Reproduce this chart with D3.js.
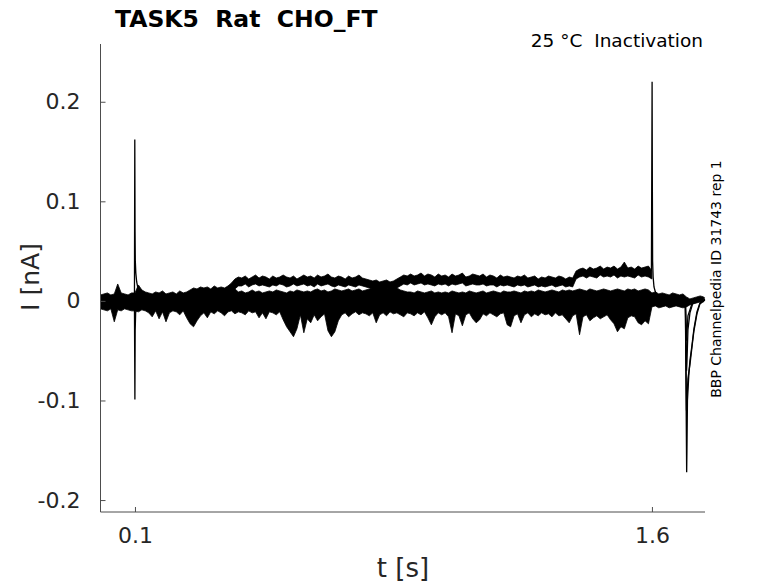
<!DOCTYPE html>
<html>
<head>
<meta charset="utf-8">
<script src="https://cdn.jsdelivr.net/npm/d3@7"></script>
<style>
  body { margin: 0; background: #fff; }
  text { font-family: 'DejaVu Sans', sans-serif; }
</style>
</head>
<body>
<div id="chart"></div>
<script>
// sweeps sampled every 10 ms from t = 0 s, currents in pA
const stepS = 0.01

// upper and lower edge of the main bundle of sweeps
const bandTopPA = [
  6, 7, 8, 6, 7, 17, 8, 7, 6, 8,
  8, 16, 11, 9, 8, 7, 9, 8, 10, 7,
  8, 9, 7, 10, 8, 9, 11, 13, 12, 14,
  13, 14, 12, 15, 13, 14, 13, 15, 14, 12,
  9, 10, 8, 9, 11, 9, 10, 8, 9, 10,
  9, 11, 10, 9, 8, 10, 9, 11, 10, 9,
  10, 9, 11, 12, 10, 11, 9, 10, 12, 11,
  10, 11, 12, 10, 11, 12, 10, 11, 12, 13,
  12, 13, 14, 13, 12, 14, 13, 11, 10, 9,
  9, 8, 10, 9, 8, 9, 10, 8, 9, 8,
  9, 8, 10, 9, 8, 9, 8, 10, 9, 8,
  9, 10, 8, 9, 10, 9, 8, 10, 9, 9,
  10, 9, 8, 10, 9, 10, 9, 11, 10, 9,
  10, 11, 10, 9, 11, 10, 11, 10, 11, 12,
  11, 10, 12, 11, 10, 11, 12, 11, 10, 11,
  12, 11, 10, 12, 11, 12, 10, 11, 12, 11,
  8, 9, 7, 8, 7, 6, 8, 7, 6, 7,
  4, 2, 3, 4, 5, 4
]
const bandBotPA = [
  -8, -9, -10, -8, -21, -9, -10, -8, -9, -10,
  -10, -11, -9, -10, -12, -16, -10, -18, -11, -21,
  -12, -10, -11, -14, -10, -17, -23, -26, -20, -15,
  -12, -17, -11, -13, -10, -12, -15, -11, -10, -13,
  -11, -12, -14, -10, -12, -11, -17, -12, -18, -11,
  -12, -14, -11, -19, -26, -31, -36, -28, -14, -32,
  -18, -22, -14, -20, -16, -13, -30, -36, -31, -20,
  -14, -12, -16, -13, -11, -14, -12, -13, -15, -12,
  -22, -14, -12, -15, -11, -13, -12, -14, -16, -12,
  -13, -15, -12, -14, -11, -17, -24, -16, -12, -14,
  -12, -16, -32, -13, -15, -25, -14, -12, -18, -22,
  -19, -13, -15, -12, -14, -16, -13, -12, -24, -26,
  -15, -13, -22, -14, -12, -16, -13, -15, -12, -14,
  -13, -16, -12, -15, -14, -18, -22, -15, -13, -34,
  -16, -14, -20, -17, -15, -18, -16, -14, -19, -23,
  -31, -26, -28, -17, -15, -16, -22, -24, -20, -23,
  -6, -5, -7, -6, -5, -7, -6, -5, -6, -7,
  -6, -4, -3, -2, -1, -1
]

// the one sweep that drifts up, from sample 37 (0.37 s) to sample 160 (1.60 s)
const upperFirst = 37
const upperTopPA = [
  15, 18,
  22, 24, 23, 25, 22, 24, 26, 23, 25, 24, 22,
  25, 23, 24, 26, 24, 23, 25, 22, 24, 26,
  24, 25, 23, 26, 24, 25, 27, 24, 23, 25,
  24, 22, 25, 23, 24, 26, 23, 22, 21, 20,
  21, 19, 20, 21, 19, 20, 22, 24, 26, 25,
  27, 25, 26, 28, 25, 27, 26, 24, 27, 25,
  26, 24, 27, 25, 26, 28, 24, 25, 27, 26,
  25, 27, 24, 26, 25, 23, 26, 24, 25, 24,
  23, 25, 24, 26, 23, 24, 25, 22, 24, 23,
  25, 24, 23, 25, 24, 22, 24, 23,
  30, 32, 33, 31, 34, 32, 33, 35, 32, 34,
  33, 35, 32, 34, 39, 33, 34, 32, 35, 33, 34, 35,
  30
]
const upperBotPA = [
  10, 11,
  12, 15, 15, 17, 14, 16, 17, 15, 16, 15, 14,
  16, 15, 17, 16, 14, 15, 17, 15, 16, 17,
  15, 16, 14, 17, 15, 16, 17, 15, 14, 16,
  15, 14, 16, 15, 14, 16, 15, 14, 13, 12,
  12, 11, 12, 13, 11, 12, 13, 15, 17, 16,
  18, 16, 17, 18, 16, 17, 16, 15, 17, 16,
  17, 15, 17, 16, 17, 18, 15, 16, 17, 16,
  16, 17, 15, 16, 16, 14, 16, 15, 16, 15,
  14, 16, 15, 16, 14, 15, 16, 14, 15, 14,
  15, 16, 14, 15, 16, 14, 15, 14,
  22, 24, 25, 23, 25, 24, 23, 26, 24, 25,
  24, 26, 23, 25, 24, 25, 24, 23, 26, 24, 25, 24,
  22
]

// fast capacitive transients, own time points (s) and pA
const onsetUpT = [0.0985, 0.0995, 0.1003, 0.101, 0.1025, 0.105, 0.109, 0.114]
const onsetUpPA = [4, 162, 70, 40, 28, 19, 12, 8]
const onsetDownT = [0.0985, 0.0998, 0.1006, 0.102, 0.104]
const onsetDownPA = [-4, -99, -30, -12, -8]
const stepUpT = [1.5985, 1.6005, 1.6013, 1.602, 1.6035, 1.606, 1.61, 1.615]
const stepUpPA = [30, 220, 110, 40, 24, 14, 9, 6]
const tailDeepT = [1.697, 1.7008, 1.7016, 1.7031, 1.7074, 1.7103, 1.716, 1.7219, 1.7306, 1.7393, 1.7538]
const tailDeepPA = [-1, -172, -150, -100, -72, -60, -45, -28, -11, -2, 2]
const tailSlowT = [1.697, 1.7003, 1.7045, 1.7103, 1.716, 1.7219, 1.7306, 1.7393, 1.7538]
const tailSlowPA = [-3, -110, -78, -64, -47, -30, -13, -3, 1]
const tailFastT = [1.697, 1.7005, 1.7016, 1.7045, 1.7103, 1.719, 1.7306, 1.7538]
const tailFastPA = [0, -70, -62, -29, -12, -2, 2, 3]
const tailSmallT = [1.697, 1.7003, 1.7045, 1.716, 1.7306]
const tailSmallPA = [2, -40, -15, -3, 1]

const xTicks = [0.1, 1.6]
const yTicks = [-0.2, -0.1, 0, 0.1, 0.2]

const width = 778
const height = 583

const svg = d3
  .select('#chart')
  .append('svg')
  .attr('width', width)
  .attr('height', height)

const x = d3.scaleLinear().domain([0, 1.754]).range([100.5, 705])
const y = d3.scaleLinear().domain([-0.212, 0.258]).range([512, 44])

const pa = v => v / 1000

// main bundle
const band = bandTopPA.map((d, i) => ({ t: i * stepS, hi: pa(d), lo: pa(bandBotPA[i]) }))
const upper = upperTopPA.map((d, i) => ({
  t: (upperFirst + i) * stepS,
  hi: pa(d),
  lo: pa(upperBotPA[i])
}))

const area = d3
  .area()
  .x(d => x(d.t))
  .y0(d => y(d.lo))
  .y1(d => y(d.hi))

svg
  .selectAll('.bundle')
  .data([band, upper])
  .enter()
  .append('path')
  .attr('class', 'bundle')
  .attr('d', area)
  .attr('fill', '#000')
  .attr('stroke', '#000')
  .attr('stroke-width', 0.8)

// transients
const line = d3
  .line()
  .x(d => x(d[0]))
  .y(d => y(pa(d[1])))

const transients = [
  [onsetUpT, onsetUpPA],
  [onsetDownT, onsetDownPA],
  [stepUpT, stepUpPA],
  [tailDeepT, tailDeepPA],
  [tailSlowT, tailSlowPA],
  [tailFastT, tailFastPA],
  [tailSmallT, tailSmallPA]
]

svg
  .selectAll('.transient')
  .data(transients)
  .enter()
  .append('path')
  .attr('class', 'transient')
  .attr('d', d => line(d[0].map((t, i) => [t, d[1][i]])))
  .attr('fill', 'none')
  .attr('stroke', '#000')
  .attr('stroke-width', 1.3)

// axes
const xAxis = d3
  .axisBottom(x)
  .tickValues(xTicks)
  .tickFormat(d => String(d))
  .tickSizeInner(-5)
  .tickSizeOuter(0)
  .tickPadding(15)

const yAxis = d3
  .axisLeft(y)
  .tickValues(yTicks)
  .tickFormat(d => String(d))
  .tickSizeInner(-5)
  .tickSizeOuter(0)
  .tickPadding(20)

const gx = svg
  .append('g')
  .attr('transform', 'translate(0,512)')
  .call(xAxis)
gx.select('.domain').attr('d', 'M100.5,0H705')

const gy = svg
  .append('g')
  .attr('transform', 'translate(100.5,0)')
  .call(yAxis)
gy.select('.domain').attr('d', 'M0,44V512')

svg.selectAll('.domain').attr('stroke', '#4d4d4d').attr('stroke-width', 1)
svg.selectAll('.tick line').attr('stroke', '#4d4d4d')
svg
  .selectAll('.tick text')
  .style('font-size', '22px')
  .attr('fill', '#262626')
  .style('font-family', "'DejaVu Sans', sans-serif")

// labels
svg
  .append('text')
  .text('TASK5  Rat  CHO_FT')
  .attr('x', 115)
  .attr('y', 27)
  .style('font-size', '23.5px')
  .style('font-weight', 'bold')
  .attr('fill', '#000')
  .style('white-space', 'pre')

svg
  .append('text')
  .text('25 °C  Inactivation')
  .attr('x', 703)
  .attr('y', 47)
  .attr('text-anchor', 'end')
  .style('font-size', '18.5px')
  .attr('fill', '#000')
  .style('white-space', 'pre')

svg
  .append('text')
  .text('t [s]')
  .attr('x', 403)
  .attr('y', 577)
  .attr('text-anchor', 'middle')
  .style('font-size', '26px')
  .attr('fill', '#262626')

svg
  .append('text')
  .text('I [nA]')
  .attr('transform', 'translate(39,277) rotate(-90)')
  .attr('text-anchor', 'middle')
  .style('font-size', '25px')
  .attr('fill', '#262626')

svg
  .append('text')
  .text('BBP Channelpedia ID 31743 rep 1')
  .attr('transform', 'translate(721,279) rotate(-90)')
  .attr('text-anchor', 'middle')
  .style('font-size', '14px')
  .attr('fill', '#000')
</script>
</body>
</html>
